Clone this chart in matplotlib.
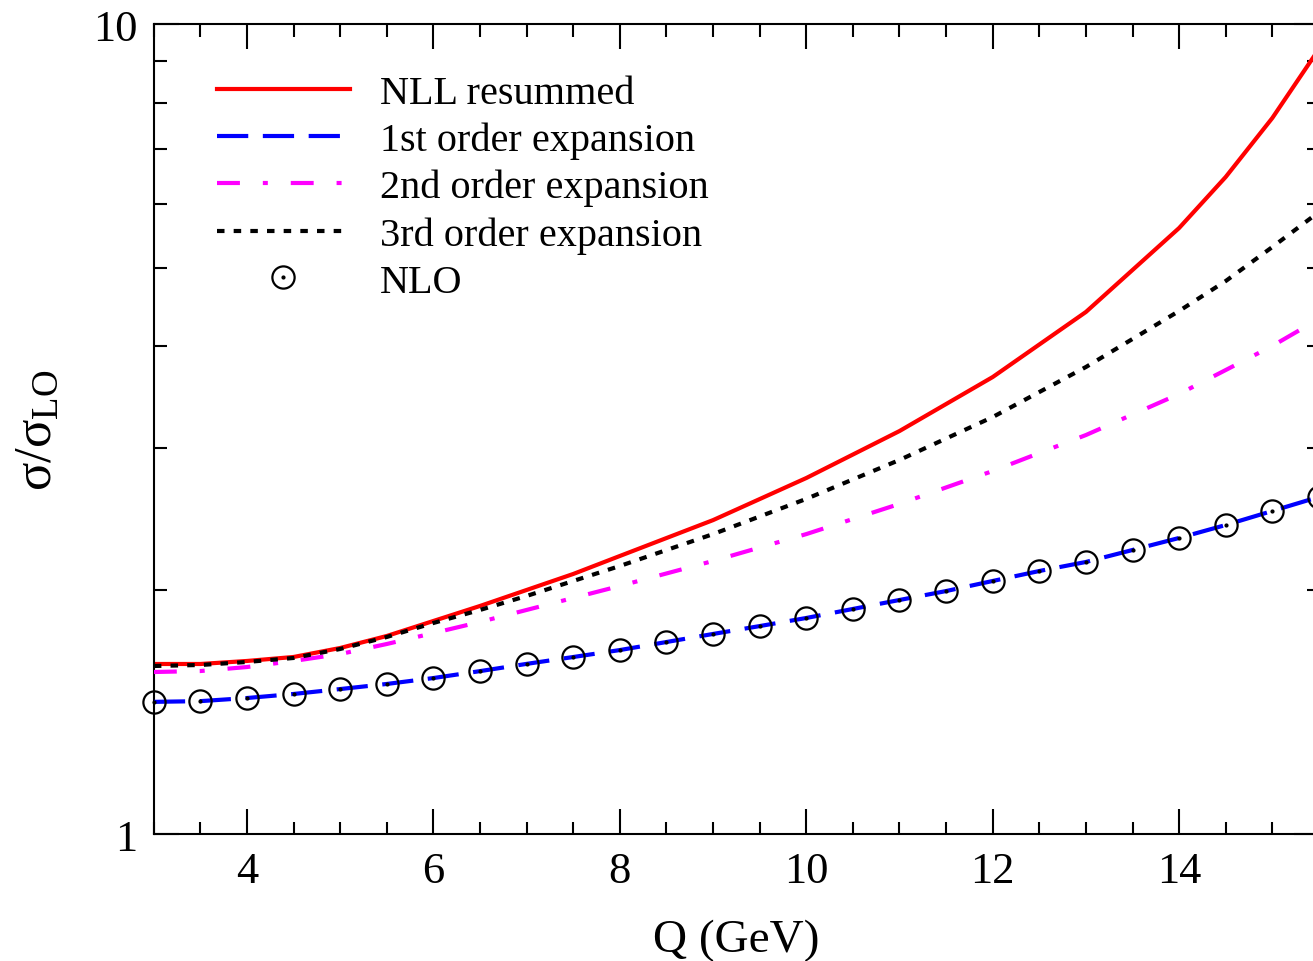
import numpy as np
import matplotlib
matplotlib.use("Agg")
import matplotlib.pyplot as plt
from matplotlib.ticker import FixedLocator, NullFormatter
from matplotlib.legend_handler import HandlerTuple

plt.rcParams['font.family'] = ['Liberation Serif', 'DejaVu Serif']
plt.rcParams['mathtext.fontset'] = 'custom'
plt.rcParams['mathtext.rm'] = 'Liberation Serif'
plt.rcParams['mathtext.it'] = 'Liberation Serif:italic'

# values
q_curve = [3, 3.5, 4, 4.5, 5, 5.5, 6, 6.5, 7, 7.5, 8, 9, 10, 11, 12, 13, 14,
           14.5, 15, 15.5]
nll = [1.6215, 1.6215, 1.6355, 1.6542, 1.6970, 1.7560, 1.8325, 1.9124, 2.0013,
       2.0944, 2.2043, 2.4409, 2.7510, 3.1441, 3.6658, 4.4105, 5.5994, 6.4740,
       7.6550, 9.314]
second = [1.5849, 1.5894, 1.6076, 1.6355, 1.6681, 1.7164, 1.7705, 1.8273,
          1.8908, 1.9563, 2.0242, 2.1732, 2.3457, 2.5560, 2.8063, 3.1085,
          3.4933, 3.7395, 4.0046, 4.3241]
third = [1.6123, 1.6169, 1.6309, 1.6495, 1.6922, 1.7510, 1.8221, 1.8908,
         1.9675, 2.0531, 2.1424, 2.3457, 2.5926, 2.8959, 3.2716, 3.7717,
         4.4231, 4.8160, 5.3048, 5.8596]

q_nlo = [3, 3.5, 4, 4.5, 5, 5.5, 6, 6.5, 7, 7.5, 8, 8.5, 9, 9.5, 10, 10.5,
         11, 11.5, 12, 12.5, 13, 13.5, 14, 14.5, 15, 15.5]
nlo = [1.456, 1.459, 1.472, 1.489, 1.510, 1.532, 1.558, 1.589, 1.622, 1.654,
       1.687, 1.726, 1.766, 1.806, 1.848, 1.896, 1.945, 1.995, 2.053, 2.112,
       2.167, 2.242, 2.320, 2.407, 2.505, 2.607]
first = nlo  # 1st order expansion lies on the NLO points

fig = plt.figure(figsize=(13.13, 9.62), dpi=100)
ax = fig.add_axes([0.1172, 0.132, 0.8873, 0.842])

lw = 3
l_red, = ax.plot(q_curve, nll, color="#ff0000", lw=lw, zorder=2)
l_mag, = ax.plot(q_curve, second, color="#ff00ff", lw=lw, dashes=(5.5, 5.5, 1.2, 5.5), zorder=3)
l_blk, = ax.plot(q_curve, third, color="black", lw=lw, dashes=(1.8, 2.2), zorder=4)
l_blu, = ax.plot(q_nlo, first, color="#0000ff", lw=lw, dashes=(7.5, 3.5), zorder=5)
m_circ, = ax.plot(q_nlo, nlo, ls="none", marker="o", ms=16, mfc="none", mec="black",
                  mew=1.6, zorder=6, clip_on=False)
m_dot, = ax.plot(q_nlo, nlo, ls="none", marker="o", ms=2.0, mfc="black", mec="black",
                 zorder=7, clip_on=False)

ax.set_yscale("log")
ax.set_xlim(3, 15.5)
ax.set_ylim(1, 10)

ax.set_xticks([4, 6, 8, 10, 12, 14])
ax.xaxis.set_minor_locator(FixedLocator(np.arange(3, 15.6, 0.5)))
ax.set_yticks([1, 10])
ax.set_yticklabels(["1", "10"])
ax.yaxis.set_minor_locator(FixedLocator([2, 3, 4, 5, 6, 7, 8, 9]))
ax.yaxis.set_minor_formatter(NullFormatter())

ax.tick_params(which="both", direction="in", top=True, right=True, width=1.5,
               labelsize=32)
ax.tick_params(which="major", length=18, pad=12)
ax.tick_params(which="minor", length=9)
for s in ax.spines.values():
    s.set_linewidth(1.5)

ax.set_xlabel("Q (GeV)", fontsize=34, labelpad=20)
ax.set_ylabel(r"σ/σ$_{\mathrm{LO}}$", fontsize=38)
ax.yaxis.set_label_coords(-0.079, 0.5)

leg = ax.legend([l_red, l_blu, l_mag, l_blk, (m_circ, m_dot)],
                ["NLL resummed", "1st order expansion", "2nd order expansion",
                 "3rd order expansion", "NLO"],
                handler_map={tuple: HandlerTuple(ndivide=1, pad=0)},
                loc="upper left", bbox_to_anchor=(0.04, 0.957), frameon=False,
                fontsize=29, handlelength=3.3, handletextpad=0.75,
                labelspacing=0.24, borderaxespad=0)

fig.savefig("out.png", dpi=100)
